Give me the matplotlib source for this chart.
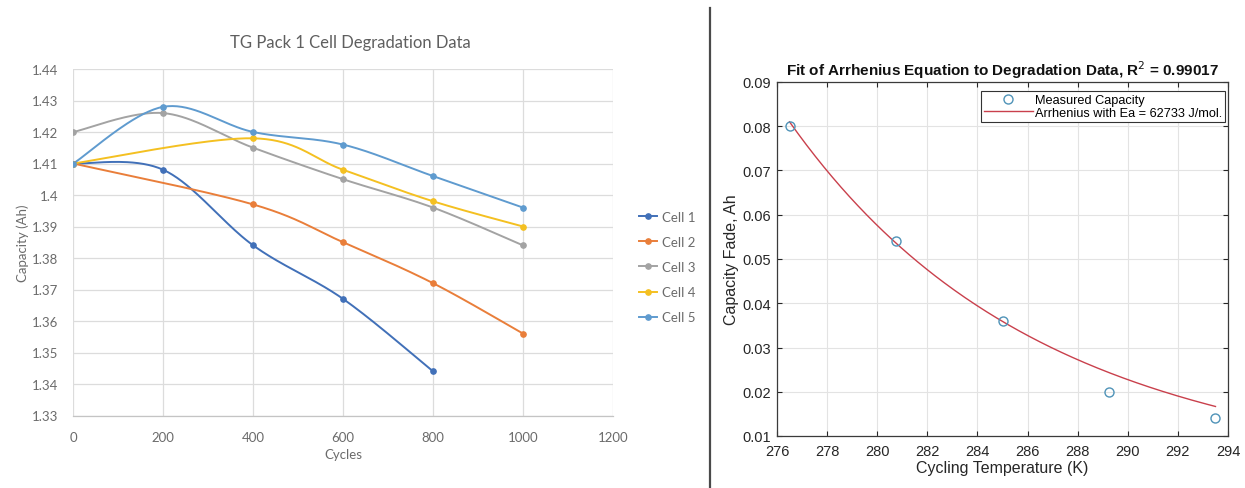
import numpy as np
import matplotlib
matplotlib.use("Agg")
import matplotlib.pyplot as plt
from matplotlib.lines import Line2D

# ---- Cell capacity vs. cycle count (TG Pack 1) ----
cell1_cycles = [0, 200, 400, 600, 800]
cell1_cap = [1.410, 1.408, 1.384, 1.367, 1.344]
cell2_cycles = [0, 400, 600, 800, 1000]
cell2_cap = [1.410, 1.397, 1.385, 1.372, 1.356]
cell3_cycles = [0, 200, 400, 600, 800, 1000]
cell3_cap = [1.420, 1.426, 1.415, 1.405, 1.396, 1.384]
cell4_cycles = [0, 400, 600, 800, 1000]
cell4_cap = [1.410, 1.418, 1.408, 1.398, 1.390]
cell5_cycles = [0, 200, 400, 600, 800, 1000]
cell5_cap = [1.410, 1.428, 1.420, 1.416, 1.406, 1.396]
cell_names = ["Cell 1", "Cell 2", "Cell 3", "Cell 4", "Cell 5"]
cell_colors = ["#4170b8", "#e97e3a", "#a3a3a3", "#f4c021", "#5f9bcf"]

cycle_ticks = [0, 200, 400, 600, 800, 1000, 1200]
cap_ticks = [1.33, 1.34, 1.35, 1.36, 1.37, 1.38, 1.39, 1.40, 1.41, 1.42, 1.43, 1.44]
cap_tick_labels = ["1.33", "1.34", "1.35", "1.36", "1.37", "1.38", "1.39", "1.4",
                   "1.41", "1.42", "1.43", "1.44"]

# ---- Capacity fade vs. cycling temperature ----
temps_K = [276.5, 280.75, 285.0, 289.25, 293.5]
fade_Ah = [0.080, 0.054, 0.036, 0.020, 0.014]
activation_energy = 62733.0   # J/mol
gas_constant = 8.314          # J/(mol K)
fit_fade_at_first_temp = 0.081
r_squared = "0.99017"
temp_ticks = [276, 278, 280, 282, 284, 286, 288, 290, 292, 294]
fade_ticks = [0.01, 0.02, 0.03, 0.04, 0.05, 0.06, 0.07, 0.08, 0.09]


def smooth_curve(xs, ys, n=40):
    """Catmull-Rom style cubic Bezier smoothing through every point."""
    pts = np.column_stack([xs, ys]).astype(float)
    out = []
    for i in range(len(pts) - 1):
        p0 = pts[i - 1] if i > 0 else pts[i]
        p1, p2 = pts[i], pts[i + 1]
        p3 = pts[i + 2] if i + 2 < len(pts) else pts[i + 1]
        c1 = p1 + (p2 - p0) / 6.0
        c2 = p2 - (p3 - p1) / 6.0
        t = np.linspace(0, 1, n)[:, None]
        seg = ((1 - t) ** 3) * p1 + 3 * ((1 - t) ** 2) * t * c1 \
            + 3 * (1 - t) * t ** 2 * c2 + t ** 3 * p2
        out.append(seg if i == 0 else seg[1:])
    seg = np.vstack(out)
    return seg[:, 0], seg[:, 1]


W, H = 1245, 489
fig = plt.figure(figsize=(W / 100, H / 100), dpi=100)
fig.patch.set_facecolor("white")

# ================= left chart =================
xl_font = "Lato"
xl_text = "#6b6b6b"
axL = fig.add_axes([73.3 / W, 1 - 416.5 / H, (613 - 73.3) / W, (416.5 - 70) / H])
series = [(cell1_cycles, cell1_cap), (cell2_cycles, cell2_cap), (cell3_cycles, cell3_cap),
          (cell4_cycles, cell4_cap), (cell5_cycles, cell5_cap)]
for (xs, ys), name, col in zip(series, cell_names, cell_colors):
    sx, sy = smooth_curve(xs, ys)
    axL.plot(sx, sy, color=col, lw=1.4, solid_capstyle="round", zorder=3)
    axL.plot(xs, ys, ls="none", marker="o", ms=3.8, color=col, zorder=4)

axL.set_xlim(0, 1200)
axL.set_ylim(1.33, 1.44)
axL.set_xticks(cycle_ticks)
axL.set_yticks(cap_ticks)
axL.set_yticklabels(cap_tick_labels)
axL.grid(True, color="#dcdcdc", lw=0.9)
axL.set_axisbelow(True)
for s in ["top", "right", "left"]:
    axL.spines[s].set_visible(False)
axL.spines["bottom"].set_color("#c4c4c4")
axL.spines["bottom"].set_linewidth(0.9)
axL.tick_params(length=0, labelsize=9.5, colors=xl_text, pad=11)
for lab in axL.get_xticklabels() + axL.get_yticklabels():
    lab.set_fontfamily(xl_font)
axL.set_xlabel("Cycles", fontsize=9.5, color=xl_text, fontfamily=xl_font, labelpad=4)
axL.set_ylabel("Capacity (Ah)", fontsize=9.5, color=xl_text, fontfamily=xl_font, labelpad=2)
fig.text(350 / W, 1 - 43 / H, "TG Pack 1 Cell Degradation Data", ha="center", va="center",
         fontsize=12, color="#5f5f5f", fontfamily=xl_font)

handles = [Line2D([0], [0], color=c, lw=1.4, marker="o", ms=3.8) for c in cell_colors]
fig.legend(handles, cell_names, loc="center left", bbox_to_anchor=(639 / W, 1 - 268 / H),
           frameon=False, handlelength=1.4, handletextpad=0.35,
           labelspacing=1.0, borderpad=0, borderaxespad=0,
           prop={"family": xl_font, "size": 9.5}, labelcolor=xl_text)

# separator between the two panels
fig.add_artist(Line2D([710 / W, 710 / W], [0, 1 - 9 / H], transform=fig.transFigure,
                      color="#4a4a4a", lw=1.6))

# ================= right chart =================
ml_font = "Liberation Sans"
ml_text = "#262626"
axR = fig.add_axes([777 / W, 1 - 437 / H, (1228 - 777) / W, (437 - 83) / H])
t_fit = np.linspace(temps_K[0], temps_K[-1], 200)
prefactor = fit_fade_at_first_temp / np.exp(activation_energy / (gas_constant * temps_K[0]))
fade_fit = prefactor * np.exp(activation_energy / (gas_constant * t_fit))
axR.plot(temps_K, fade_Ah, ls="none", marker="o", ms=6.5, mfc="none", mec="#4f93b8",
         mew=1.0, label="Measured Capacity", zorder=4)
axR.plot(t_fit, fade_fit, color="#c9404c", lw=1.0,
         label=f"Arrhenius with Ea = {activation_energy:.0f} J/mol.", zorder=3)
axR.set_xlim(276, 294)
axR.set_ylim(0.01, 0.09)
axR.set_xticks(temp_ticks)
axR.set_yticks(fade_ticks)
axR.set_yticklabels([f"{v:.2f}" for v in fade_ticks])
axR.grid(True, color="#e3e3e3", lw=0.8)
axR.set_axisbelow(True)
for s in axR.spines.values():
    s.set_color("#3a3a3a")
    s.set_linewidth(0.9)
axR.tick_params(direction="in", length=3.5, width=0.8, top=True, right=True,
                labelsize=10.5, colors=ml_text)
axR.tick_params(axis="x", pad=6)
axR.tick_params(axis="y", pad=4)
for lab in axR.get_xticklabels() + axR.get_yticklabels():
    lab.set_fontfamily(ml_font)
axR.set_xlabel("Cycling Temperature (K)", fontsize=11.5, color=ml_text,
               fontfamily=ml_font, labelpad=1)
axR.set_ylabel("Capacity Fade, Ah", fontsize=11.5, color=ml_text,
               fontfamily=ml_font, labelpad=3)
axR.set_title(f"Fit of Arrhenius Equation to Degradation Data, R$^2$ = {r_squared}",
              fontsize=11, fontweight="bold", color="#111111", fontfamily=ml_font, pad=5)
leg = axR.legend(loc="upper right", bbox_to_anchor=(1 - 3 / 451, 1 - 9 / 354),
                 borderaxespad=0, fancybox=False, framealpha=1, edgecolor="#333333",
                 prop={"family": ml_font, "size": 9.2}, handlelength=3.8,
                 handletextpad=0.15, labelspacing=0.05, borderpad=0.25)
leg.get_frame().set_linewidth(0.8)

fig.savefig("out.png", dpi=100, facecolor="white")
